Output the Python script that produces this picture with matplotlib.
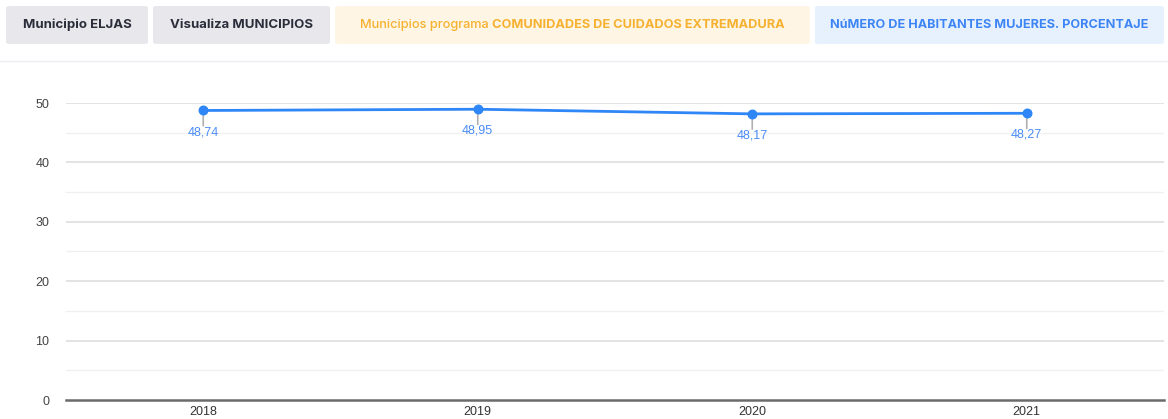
import matplotlib
matplotlib.use("Agg")
import matplotlib.pyplot as plt
from matplotlib.patches import FancyBboxPatch
from matplotlib.lines import Line2D

years = ["2018", "2019", "2020", "2021"]
values = [48.74, 48.95, 48.17, 48.27]
value_labels = ["48,74", "48,95", "48,17", "48,27"]
y_ticks = [0, 10, 20, 30, 40, 50]

W, H = 1168, 419
fig = plt.figure(figsize=(W / 100, H / 100), dpi=100)
fig.patch.set_facecolor("white")

def fx(px):
    return px / W

def fy(py):
    return 1 - py / H

# Header buttons
buttons = [
    (6, 148, "#e8e8ec"),
    (153, 330, "#e8e8ec"),
    (335, 810, "#fff5e4"),
    (815, 1164, "#e7f1fe"),
]
btn_top, btn_bot = 6, 44
for x0, x1, bg in buttons:
    p = FancyBboxPatch((fx(x0), fy(btn_bot)), fx(x1 - x0), (btn_bot - btn_top) / H,
                       boxstyle="round,pad=0,rounding_size=0.004",
                       transform=fig.transFigure, facecolor=bg, edgecolor="none")
    fig.patches.append(p)

btn_font = ["Inter", "DejaVu Sans"]
bfs = 9.5
ty = fy((btn_top + btn_bot) / 2)
fig.text(fx((6 + 148) / 2), ty, "Municipio ELJAS", ha="center", va="center",
         fontsize=bfs, fontweight="bold", color="#2b2d3a", family=btn_font)
fig.text(fx((153 + 330) / 2), ty, "Visualiza MUNICIPIOS", ha="center", va="center",
         fontsize=bfs, fontweight="bold", color="#2b2d3a", family=btn_font)
fig.text(fx((815 + 1164) / 2), ty, "NúMERO DE HABITANTES MUJERES. PORCENTAJE", ha="center",
         va="center", fontsize=9.1, fontweight="bold", color="#3d85f5", family=btn_font)

# Two-weight text in orange button
renderer = fig.canvas.get_renderer()
t1 = fig.text(0, ty, "Municipios programa ", ha="left", va="center", fontsize=9.2,
              fontweight="medium", color="#f5b12f", family=btn_font)
t2 = fig.text(0, ty, "COMUNIDADES DE CUIDADOS EXTREMADURA", ha="left", va="center",
              fontsize=9.2, fontweight="bold", color="#f5b12f", family=btn_font)
w1 = t1.get_window_extent(renderer).width
w2 = t2.get_window_extent(renderer).width
start = (335 + 810) / 2 - (w1 + w2) / 2
t1.set_x(fx(start))
t2.set_x(fx(start + w1))

# separator line
fig.add_artist(Line2D([0, 1], [fy(60.5), fy(60.5)], transform=fig.transFigure,
                      color="#eceef4", linewidth=1))

# Plot area
ax_left, ax_right, ax_top, ax_bot = 66, 1164, 103, 400
ax = fig.add_axes([fx(ax_left), fy(ax_bot), fx(ax_right - ax_left), (ax_bot - ax_top) / H])
ax.set_xlim(-0.5, len(years) - 0.5)
ax.set_ylim(0, 50)
for s in ax.spines.values():
    s.set_visible(False)

for v in range(5, 50, 10):
    ax.axhline(v, color="#f0f0f0", linewidth=1, zorder=0)
for v in y_ticks[1:]:
    ax.axhline(v, color="#dedede", linewidth=1.2, zorder=0)
ax.axhline(0, color="#6b6b6b", linewidth=1.8, zorder=1, clip_on=False)

x = list(range(len(years)))
ax.plot(x, values, color="#2f86f6", linewidth=2, zorder=3, clip_on=False,
        solid_capstyle="round")
ax.scatter(x, values, s=38, color="#2f86f6", zorder=4, clip_on=False)

lab_font = ["Liberation Sans", "DejaVu Sans"]
for xi, v, lab in zip(x, values, value_labels):
    ax.annotate("", xy=(xi, v), xytext=(0, -11), textcoords="offset points",
                xycoords="data",
                arrowprops=dict(arrowstyle="-", color="#b0b0b0", lw=1.2,
                                shrinkA=0, shrinkB=0))
    ax.annotate(lab, xy=(xi, v), xytext=(0, -15.5), textcoords="offset points",
                ha="center", va="center", fontsize=9, color="#4a8cf6",
                family=lab_font)

ax.set_yticks(y_ticks)
ax.set_yticklabels([str(t) for t in y_ticks], fontsize=9, color="#444444",
                   family=lab_font)
ax.set_xticks(x)
ax.set_xticklabels(years, fontsize=9, color="#333333", family=lab_font)
ax.tick_params(axis="y", length=0, pad=12)
ax.tick_params(axis="x", length=0, pad=4)
ax.set_facecolor("none")

fig.savefig("out.png", dpi=100, facecolor="white")
